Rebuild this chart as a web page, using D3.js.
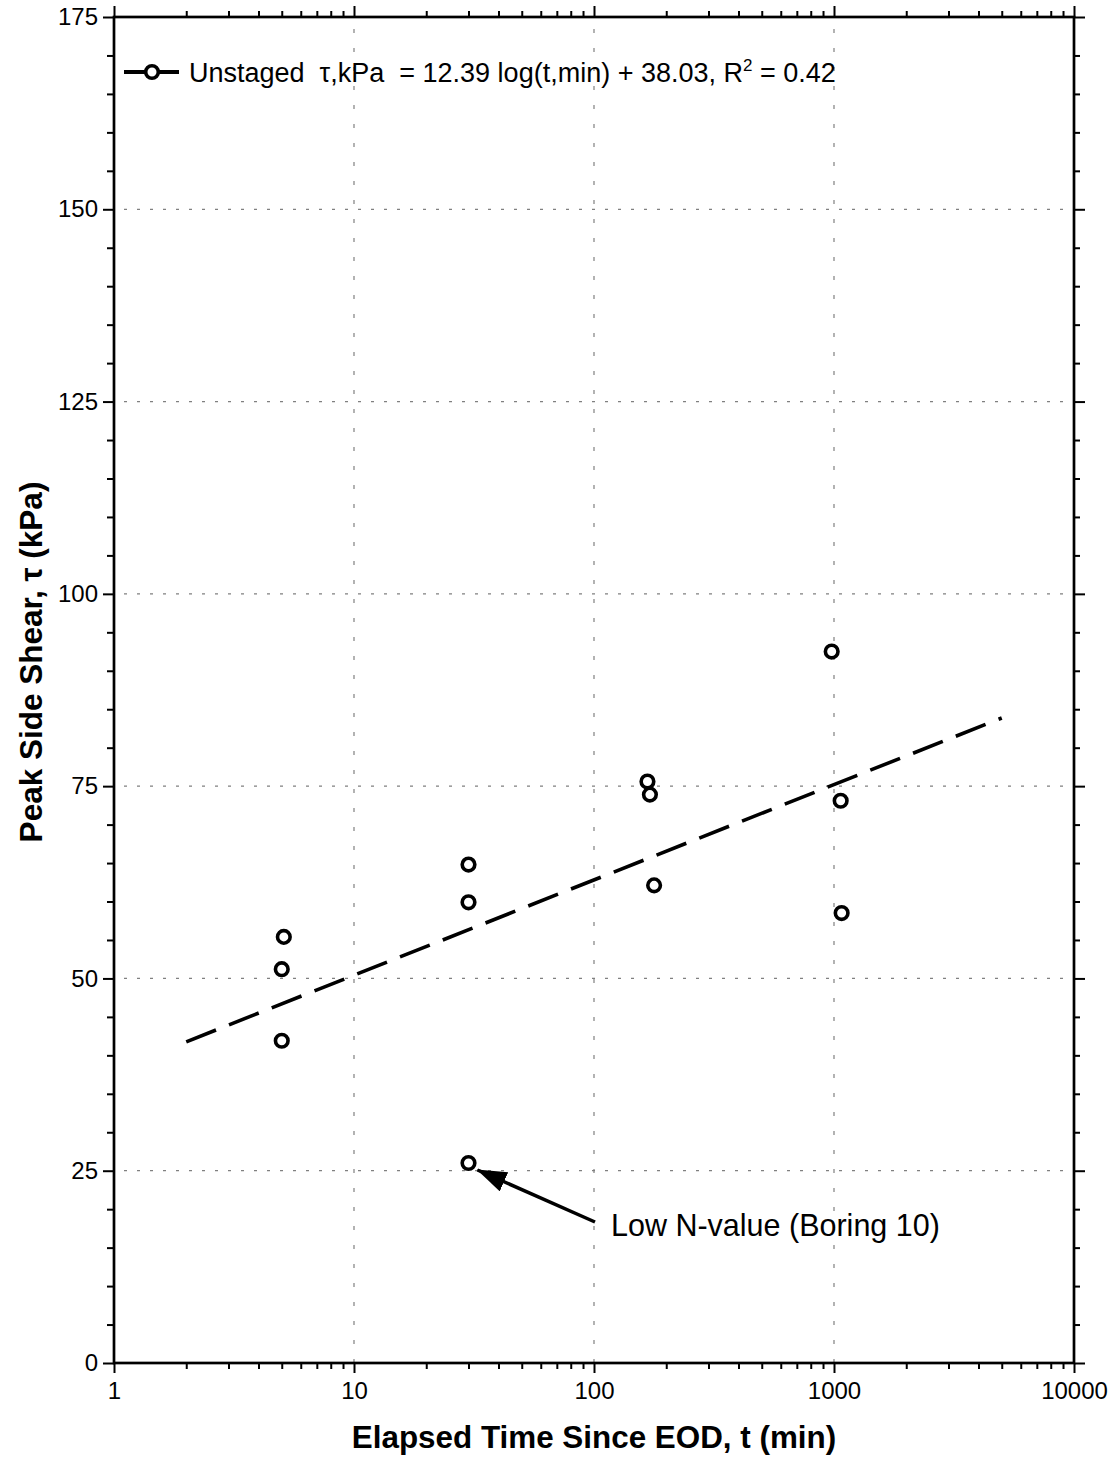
<!DOCTYPE html>
<html>
<head>
<meta charset="utf-8">
<script src="https://cdn.jsdelivr.net/npm/d3@7"></script>
<style>
  html, body { margin: 0; padding: 0; background: #fff; }
  svg { display: block; font-family: "Liberation Sans", Arial, sans-serif; }
</style>
</head>
<body>
<svg id="chart" width="1120" height="1460"></svg>
<script>
// Elapsed time since end of driving (min) and measured peak side shear (kPa)
const timeMin  = [5.1, 5.0, 5.0, 30, 30, 30, 167, 171, 178, 978, 1066, 1076];
const shearKPa = [55.4, 51.2, 41.9, 64.8, 59.9, 26.0, 75.6, 73.9, 62.1, 92.5, 73.1, 58.5];

// Log-linear regression stated in the legend
const fitSlope = 12.39;
const fitIntercept = 38.03;
const fitR2 = "0.42";
const fitTimeRange = [2, 5000];

// Axis ticks
const xMajorTicks = [1, 10, 100, 1000, 10000];
const yMajorTicks = [0, 25, 50, 75, 100, 125, 150, 175];
const yGridTicks = [25, 50, 75, 100, 125, 150];
const xGridTicks = [10, 100, 1000];

// Annotation
const noteText = "Low N-value (Boring 10)";
const notePoint = { t: 30, tau: 26.0 };

const svg = d3.select("#chart");
const L = 114, R = 1074, T = 17, B = 1363;

const x = d3.scaleLog().domain([1, 10000]).range([L, R]);
const y = d3.scaleLinear().domain([0, 175]).range([B, T]);

// minor ticks: 2..9 of each decade, every 5 kPa
const xMinor = [];
for (let d = 1; d < 10000; d *= 10) for (let k = 2; k <= 9; k++) xMinor.push(d * k);
const yMinor = d3.range(0, 176, 5).filter(v => v % 25 !== 0);

// grid
const grid = svg.append("g").attr("stroke", "#808080").attr("stroke-width", 1.2);
grid.selectAll("line.h").data(yGridTicks).join("line")
  .attr("class", "h")
  .attr("x1", L).attr("x2", R)
  .attr("y1", d => y(d)).attr("y2", d => y(d))
  .attr("stroke-dasharray", "3,10").attr("stroke-dashoffset", -10);
grid.selectAll("line.v").data(xGridTicks).join("line")
  .attr("class", "v")
  .attr("x1", d => x(d)).attr("x2", d => x(d))
  .attr("y1", T).attr("y2", B)
  .attr("stroke-dasharray", "4,15").attr("stroke-dashoffset", -12);

// axes
function styleAxis(g) {
  g.select(".domain").remove();
  g.selectAll("line").attr("stroke", "#000").attr("stroke-width", 2);
  g.selectAll("text").attr("fill", "#000").attr("font-size", 24)
    .attr("font-family", "'Liberation Sans', Arial, sans-serif");
}

// bottom
svg.append("g").attr("transform", `translate(0,${B})`)
  .call(d3.axisBottom(x).tickValues(xMajorTicks).tickFormat(d3.format("d")).tickSize(10).tickPadding(9))
  .call(styleAxis);
svg.append("g").attr("transform", `translate(0,${B})`)
  .call(d3.axisBottom(x).tickValues(xMinor).tickFormat("").tickSize(6))
  .call(styleAxis);
// top
svg.append("g").attr("transform", `translate(0,${T})`)
  .call(d3.axisTop(x).tickValues(xMajorTicks).tickFormat("").tickSize(11))
  .call(styleAxis);
svg.append("g").attr("transform", `translate(0,${T})`)
  .call(d3.axisTop(x).tickValues(xMinor).tickFormat("").tickSize(6))
  .call(styleAxis);
// left
svg.append("g").attr("transform", `translate(${L},0)`)
  .call(d3.axisLeft(y).tickValues(yMajorTicks).tickFormat(d3.format("d")).tickSize(11).tickPadding(5))
  .call(styleAxis);
svg.append("g").attr("transform", `translate(${L},0)`)
  .call(d3.axisLeft(y).tickValues(yMinor).tickFormat("").tickSize(7))
  .call(styleAxis);
// right
svg.append("g").attr("transform", `translate(${R},0)`)
  .call(d3.axisRight(y).tickValues(yMajorTicks).tickFormat("").tickSize(11))
  .call(styleAxis);
svg.append("g").attr("transform", `translate(${R},0)`)
  .call(d3.axisRight(y).tickValues(yMinor).tickFormat("").tickSize(6))
  .call(styleAxis);

// frame
svg.append("rect").attr("x", L).attr("y", T).attr("width", R - L).attr("height", B - T)
  .attr("fill", "none").attr("stroke", "#000").attr("stroke-width", 2.7);

// regression line
const fitData = fitTimeRange.map(t => ({ t, tau: fitSlope * Math.log10(t) + fitIntercept }));
svg.append("path")
  .datum(fitData)
  .attr("d", d3.line().x(d => x(d.t)).y(d => y(d.tau)))
  .attr("fill", "none").attr("stroke", "#000").attr("stroke-width", 3.6)
  .attr("stroke-dasharray", "32,14");

// data points
svg.append("g").selectAll("circle")
  .data(timeMin.map((t, i) => ({ t, tau: shearKPa[i] })))
  .join("circle")
  .attr("cx", d => x(d.t)).attr("cy", d => y(d.tau)).attr("r", 6.3)
  .attr("fill", "#fff").attr("stroke", "#000").attr("stroke-width", 3.6);

// annotation arrow
svg.append("defs").append("marker")
  .attr("id", "arrowHead").attr("viewBox", "0 0 30 21")
  .attr("refX", 29).attr("refY", 10.5)
  .attr("markerWidth", 30).attr("markerHeight", 21).attr("markerUnits", "userSpaceOnUse")
  .attr("orient", "auto")
  .append("path").attr("d", "M0,0 L30,10.5 L0,21 Z").attr("fill", "#000");
const tipX = x(notePoint.t) + 9, tipY = y(notePoint.tau) + 7;
svg.append("line")
  .attr("x1", 595).attr("y1", 1222).attr("x2", tipX).attr("y2", tipY)
  .attr("stroke", "#000").attr("stroke-width", 3.5)
  .attr("marker-end", "url(#arrowHead)");
svg.append("text").attr("x", 611).attr("y", 1236)
  .attr("font-size", 30.5).attr("fill", "#000").text(noteText);

// legend
const lg = svg.append("g");
lg.append("line").attr("x1", 124).attr("x2", 179).attr("y1", 72).attr("y2", 72)
  .attr("stroke", "#000").attr("stroke-width", 3.8);
lg.append("circle").attr("cx", 152).attr("cy", 72).attr("r", 6.3)
  .attr("fill", "#fff").attr("stroke", "#000").attr("stroke-width", 3.6);
const lt = lg.append("text").attr("x", 189).attr("y", 82).attr("font-size", 27)
  .attr("fill", "#000").attr("xml:space", "preserve");
lt.append("tspan").text(`Unstaged  \u03C4,kPa  = ${fitSlope} log(t,min) + ${fitIntercept}, R`);
lt.append("tspan").attr("font-size", 17).attr("dy", -11).text("2");
lt.append("tspan").attr("dy", 11).text(` = ${fitR2}`);

// axis titles
svg.append("text").attr("x", (L + R) / 2).attr("y", 1448).attr("text-anchor", "middle")
  .attr("font-size", 31.4).attr("font-weight", "bold").attr("fill", "#000")
  .text("Elapsed Time Since EOD, t (min)");
svg.append("text")
  .attr("transform", "translate(42,662) rotate(-90)")
  .attr("text-anchor", "middle")
  .attr("font-size", 31.5).attr("font-weight", "bold").attr("fill", "#000")
  .text("Peak Side Shear, \u03C4 (kPa)");
</script>
</body>
</html>
